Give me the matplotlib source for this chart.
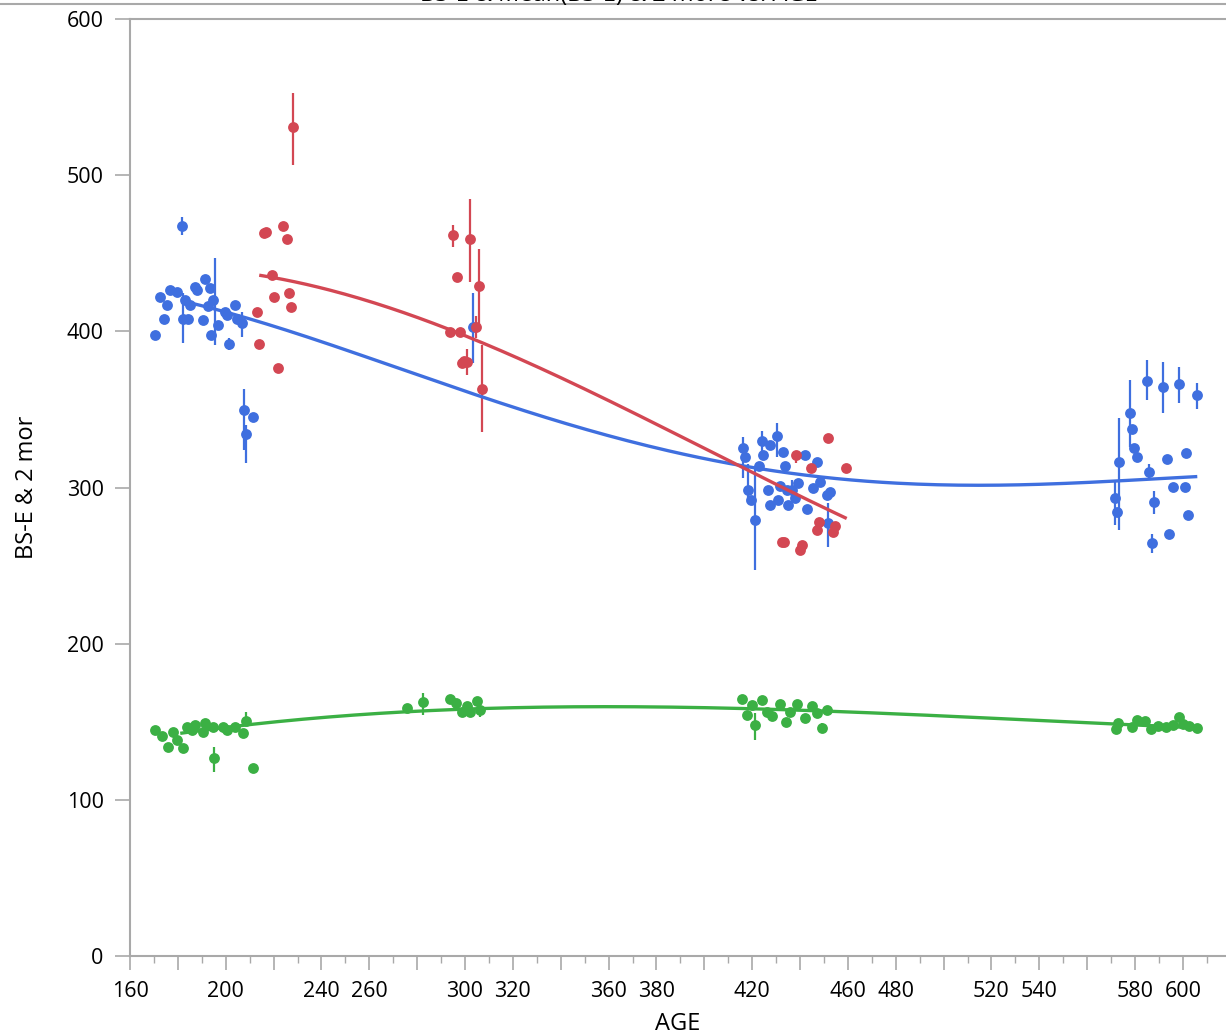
import numpy as np
import matplotlib
matplotlib.use("Agg")
import matplotlib.pyplot as plt
from matplotlib.ticker import MultipleLocator

plt.rcParams["font.family"] = ["Open Sans", "DejaVu Sans"]

BLUE = "#3f6fdf"
RED = "#d34753"
GREEN = "#3bb044"
AXIS_GRAY = "#a9a9a9"

# ------------------------------------
# Data
# ------------------------------------
blue_x = [181.6, 172.5, 176.7, 179.5, 175.3, 174.0, 170.6, 182.3, 184.4, 183.0,
          185.0, 187.2, 187.8, 191.3, 193.4, 190.6, 194.8, 192.7, 196.9, 194.0,
          199.7, 200.4, 203.9, 204.6, 206.6, 201.4, 207.6, 211.3, 208.5,
          303.2,
          416.3, 417.0, 424.0, 427.4, 430.2, 424.6, 433.0, 433.7, 423.0, 418.4,
          419.4, 421.2, 426.7, 427.4, 431.6, 430.9, 434.4, 435.1, 436.5, 439.3,
          437.9, 442.0, 447.0, 445.5, 448.3, 442.8, 451.1, 452.5, 451.8,
          585.1, 591.5, 598.5, 605.7, 577.9, 578.8, 579.7, 580.7, 573.4, 593.2,
          601.3, 586.0, 595.9, 600.7, 571.6, 572.6, 587.9, 602.0, 586.9, 594.2]
blue_y = [467.4, 422.0, 426.5, 425.0, 417.0, 408.0, 397.4, 408.0, 408.0, 420.0,
          417.0, 428.5, 426.5, 433.3, 427.5, 407.3, 420.0, 416.0, 404.0, 397.6,
          412.6, 410.5, 417.0, 408.0, 405.5, 392.0, 349.6, 345.3, 334.2,
          403.0,
          325.0, 319.7, 330.0, 327.2, 333.0, 320.8, 323.0, 313.8, 313.8, 298.4,
          292.0, 279.2, 298.4, 288.8, 301.0, 292.0, 298.4, 288.8, 298.4, 302.7,
          293.0, 320.8, 316.5, 299.4, 303.7, 286.0, 295.2, 297.3, 277.5,
          368.4, 364.1, 366.0, 359.2, 348.0, 337.2, 325.0, 319.7, 316.5, 318.0,
          321.8, 309.7, 300.6, 300.2, 293.4, 284.5, 290.4, 282.4, 264.2, 270.0]
blue_bar_x = [181.6, 182.3, 195.5, 206.6, 201.4, 207.6, 208.5, 303.2,
              416.3, 421.2, 430.2, 418.4, 436.5, 451.8, 424.0,
              585.1, 591.5, 598.5, 605.7, 577.9, 573.4, 586.0, 571.6, 587.9, 586.9]
blue_bar_lo = [462.0, 392.5, 391.0, 396.5, 388.0, 324.0, 316.0, 379.7,
               305.9, 247.2, 319.7, 290.0, 294.0, 262.0, 323.0,
               356.0, 347.5, 353.9, 350.0, 326.1, 272.8, 305.0, 276.0, 283.0, 258.0]
blue_bar_hi = [473.0, 424.5, 447.0, 412.5, 396.0, 363.0, 340.0, 424.5,
               332.5, 312.2, 341.5, 315.0, 305.0, 290.0, 336.0,
               381.6, 380.6, 377.4, 367.0, 368.8, 344.3, 315.0, 305.0, 298.0, 270.0]

red_x = [216.0, 216.8, 223.8, 225.4, 219.5, 220.2, 226.6, 227.4, 212.9, 213.9,
         222.0, 228.0,
         295.1, 302.0, 296.8, 305.8, 304.6, 293.7, 297.9, 298.6, 300.7, 299.6, 306.9,
         451.8, 438.3, 444.5, 459.0, 448.0, 447.0, 454.6, 453.9, 433.3, 432.5,
         440.7, 440.0]
red_y = [463.0, 463.5, 467.5, 459.0, 436.0, 422.0, 424.8, 415.4, 412.6, 392.0,
         376.8, 530.8,
         461.7, 459.0, 434.6, 428.8, 403.0, 399.8, 399.8, 380.0, 380.6, 381.0, 363.0,
         331.4, 320.8, 312.2, 312.2, 278.0, 272.8, 275.3, 271.7, 265.3, 265.0,
         263.2, 260.0]
red_bar_x = [228.0, 295.1, 302.0, 305.8, 304.6, 300.7, 306.9, 438.3, 459.0]
red_bar_lo = [506.5, 453.8, 431.8, 405.0, 396.0, 372.0, 335.5, 316.0, 309.0]
red_bar_hi = [552.6, 468.0, 484.5, 452.5, 410.0, 389.0, 391.0, 322.0, 314.0]

green_x = [170.4, 173.2, 176.0, 177.8, 179.5, 182.0, 183.7, 187.2, 191.3, 190.6,
           194.8, 199.0, 200.4, 203.9, 207.3, 208.5, 195.1, 211.3, 186.0,
           275.9, 282.3, 293.7, 296.2, 298.6, 300.7, 304.8, 306.3, 302.0,
           415.6, 417.7, 419.8, 421.2, 424.0, 426.0, 428.1, 431.6, 434.1, 435.8,
           438.8, 442.1, 444.8, 447.0, 449.0, 451.1,
           572.0, 573.0, 578.6, 580.7, 584.2, 586.5, 589.7, 593.0, 595.7, 598.5,
           600.2, 602.7, 605.8]
green_y = [144.7, 140.9, 134.0, 143.6, 138.3, 133.4, 146.8, 147.9, 149.0, 143.6,
           146.8, 146.8, 144.7, 146.8, 142.5, 150.6, 126.5, 120.1, 144.7,
           158.8, 162.8, 164.6, 161.8, 156.4, 160.1, 163.5, 157.5, 156.4,
           164.3, 154.3, 160.7, 147.9, 163.9, 156.4, 153.7, 161.4, 150.0, 156.4,
           161.4, 152.2, 159.8, 155.5, 145.9, 157.5,
           145.1, 148.9, 146.8, 151.1, 150.7, 145.1, 147.3, 146.8, 147.9, 152.8,
           148.6, 147.3, 145.8]
green_bar_x = [208.5, 195.1, 282.3, 306.3, 421.2, 449.0, 573.0]
green_bar_lo = [148.0, 118.0, 154.3, 153.0, 138.3, 143.0, 142.0]
green_bar_hi = [156.0, 134.0, 168.6, 160.0, 155.8, 149.0, 152.0]

# fit curves (smoothed with a low-order polynomial below)
blue_fit_x = [183, 200, 214, 240, 273, 299, 323, 359, 398, 420, 445, 473, 507, 540, 575, 606]
blue_fit_y = [418, 412.5, 408, 393.5, 375, 361, 350, 335, 319, 313, 307.5, 303, 301.5, 302, 304.5, 307]
red_fit_x = [214, 240, 273, 299, 323, 350, 380, 398, 420, 440, 459.5]
red_fit_y = [437, 426, 412, 399, 384, 362, 340, 326, 310, 295, 280]
green_fit_x = [181, 207, 227, 264.5, 290, 319, 348, 380, 406, 465, 520, 561, 606]
green_fit_y = [143, 147.5, 150, 155.6, 157.8, 159.6, 159.5, 159.2, 158.6, 155.8, 152.5, 149.4, 146]

x_major = list(range(160, 620, 20))
x_labels = ["160", "", "200", "", "240", "260", "", "300", "320", "", "360", "380",
            "", "420", "", "460", "480", "", "520", "540", "", "580", "600"]

# ------------------------------------
# Figure
# ------------------------------------
fig = plt.figure(figsize=(12.26, 10.35), dpi=100)
ax = fig.add_axes([130 / 1226, 1 - 956 / 1035, 1 - 130 / 1226, (956 - 19) / 1035])

series = [
    (blue_x, blue_y, blue_bar_x, blue_bar_lo, blue_bar_hi, blue_fit_x, blue_fit_y, BLUE, 4),
    (red_x, red_y, red_bar_x, red_bar_lo, red_bar_hi, red_fit_x, red_fit_y, RED, 3),
    (green_x, green_y, green_bar_x, green_bar_lo, green_bar_hi, green_fit_x, green_fit_y, GREEN, 4),
]

for xs, ys, bx, blo, bhi, fx, fy, col, deg in series:
    ax.vlines(bx, blo, bhi, color=col, lw=1.6, zorder=2)
    ax.plot(xs, ys, "o", color=col, ms=7.8, mec="none", zorder=3)
    coef = np.polyfit(fx, fy, deg)
    sx = np.linspace(fx[0], fx[-1], 200)
    ax.plot(sx, np.polyval(coef, sx), "-", color=col, lw=2.4, zorder=4,
            solid_capstyle="butt")

ax.set_xlim(160, 618)
ax.set_ylim(0, 600)
ax.set_xticks(x_major)
ax.set_xticklabels(x_labels)
ax.xaxis.set_minor_locator(MultipleLocator(10))
ax.set_yticks(range(0, 601, 100))

for side in ["left", "bottom", "top"]:
    ax.spines[side].set_color(AXIS_GRAY)
    ax.spines[side].set_linewidth(1.5)
ax.spines["right"].set_visible(False)

ax.tick_params(axis="y", which="major", length=11, width=1.2, color=AXIS_GRAY,
               labelsize=15.5, pad=8)
ax.tick_params(axis="x", which="major", length=10, width=1.2, color=AXIS_GRAY,
               labelsize=15.5, pad=8)
ax.tick_params(axis="x", which="minor", length=5, width=1.0, color=AXIS_GRAY)

ax.set_xlabel("AGE", fontsize=17, labelpad=7)
ax.set_ylabel("BS-E & 2 mor", fontsize=17, labelpad=20)

# clipped title and frame line at the very top
fig.add_artist(plt.Line2D([0, 1], [1 - 4 / 1035, 1 - 4 / 1035], color=AXIS_GRAY, lw=1.5))
fig.text(0.505, 1 - 1 / 1035, "BS-E & Mean(BS-E) & 2 more vs. AGE", ha="center",
         va="baseline", fontsize=17)

fig.savefig("out.png", dpi=100)
